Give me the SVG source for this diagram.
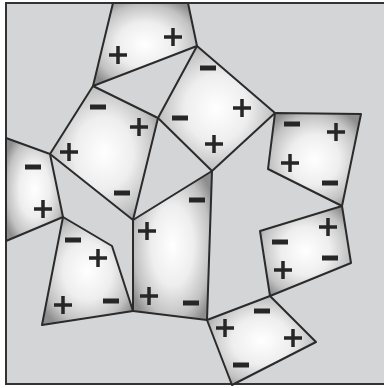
<svg xmlns="http://www.w3.org/2000/svg" width="387" height="388" viewBox="0 0 387 388">
<defs>
<radialGradient id="g" cx="0.5" cy="0.5" r="0.6">
<stop offset="0" stop-color="#ffffff"/>
<stop offset="0.45" stop-color="#eeeeee"/>
<stop offset="0.8" stop-color="#c2c2c2"/>
<stop offset="1" stop-color="#8e8e8e"/>
</radialGradient>
<g id="plus"><path d="M-9 0H9M0 -9V9"/></g>
<g id="minus"><path d="M-8 0H8"/></g>
</defs>
<style>
.tile{fill:url(#g);stroke:#2b2b2b;stroke-width:2;stroke-linejoin:round}
.p{stroke:#262626;stroke-width:3.5;fill:none}
.m{stroke:#262626;stroke-width:5;fill:none}
.frame{stroke:#333;stroke-width:2;fill:none}
</style>
<rect x="6" y="3" width="378" height="382" fill="#d3d5d7"/>
<path class="frame" d="M384 3H6V384H384"/>
<g id="tile-top">
<polygon class="tile" points="113,3 188,3 197,46 93,86"/>
<use href="#plus" class="p" x="118" y="55"/><use href="#plus" class="p" x="173" y="37"/>
</g>
<g id="tile-upper-left">
<polygon class="tile" points="93,86 158,118 133,220 50,154"/>
<use href="#minus" class="m" x="98" y="107"/><use href="#plus" class="p" x="139" y="127"/>
<use href="#plus" class="p" x="69" y="152"/><use href="#minus" class="m" x="122" y="193"/>
</g>
<g id="tile-diamond">
<polygon class="tile" points="197,46 275,113 212,171 158,118"/>
<use href="#minus" class="m" x="208" y="68"/><use href="#plus" class="p" x="242" y="108"/>
<use href="#minus" class="m" x="180" y="118"/><use href="#plus" class="p" x="214" y="144"/>
</g>
<g id="tile-left">
<polygon class="tile" points="6,138 50,154 63,217 6,241"/>
<use href="#minus" class="m" x="33" y="167"/><use href="#plus" class="p" x="43" y="209"/>
</g>
<g id="tile-center">
<polygon class="tile" points="133,220 212,171 207,320 133,311"/>
<use href="#minus" class="m" x="197" y="200"/><use href="#plus" class="p" x="147" y="231"/>
<use href="#plus" class="p" x="149" y="296"/><use href="#minus" class="m" x="191" y="303"/>
</g>
<g id="tile-lower-left">
<polygon class="tile" points="63,217 112,246 133,311 42,325"/>
<use href="#minus" class="m" x="73" y="240"/><use href="#plus" class="p" x="98" y="258"/>
<use href="#plus" class="p" x="63" y="305"/><use href="#minus" class="m" x="111" y="301"/>
</g>
<g id="tile-right-upper">
<polygon class="tile" points="275,113 361,114 342,206 268,169"/>
<use href="#minus" class="m" x="292" y="124"/><use href="#plus" class="p" x="336" y="132"/>
<use href="#plus" class="p" x="290" y="163"/><use href="#minus" class="m" x="330" y="183"/>
</g>
<g id="tile-right-middle">
<polygon class="tile" points="260,231 342,206 351,263 270,296"/>
<use href="#plus" class="p" x="328" y="227"/><use href="#minus" class="m" x="280" y="242"/>
<use href="#plus" class="p" x="283" y="270"/><use href="#minus" class="m" x="330" y="258"/>
</g>
<g id="tile-bottom-right">
<polygon class="tile" points="207,320 270,296 316,342 232,385"/>
<use href="#minus" class="m" x="262" y="311"/><use href="#plus" class="p" x="225" y="328"/>
<use href="#plus" class="p" x="293" y="338"/><use href="#minus" class="m" x="241" y="365"/>
</g>
<g id="connectors"></g>
</svg>
